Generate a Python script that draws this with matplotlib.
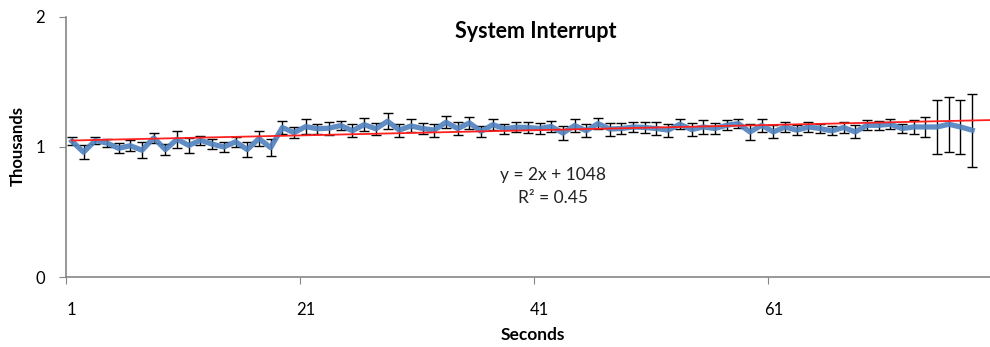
import numpy as np
import matplotlib.pyplot as plt

# system interrupt counts per second (thousands)
seconds = np.arange(1, 79)
interrupts = [1.045, 0.96, 1.05, 1.03, 0.99, 1.01, 0.975, 1.07, 0.98, 1.06,
              1.012, 1.052, 1.022, 1.0, 1.04, 0.98, 1.065, 0.995, 1.15, 1.11,
              1.157, 1.14, 1.145, 1.165, 1.125, 1.172, 1.14, 1.198, 1.13, 1.162,
              1.142, 1.13, 1.19, 1.142, 1.185, 1.12, 1.172, 1.14, 1.152, 1.15,
              1.142, 1.158, 1.107, 1.165, 1.125, 1.18, 1.138, 1.142, 1.154, 1.15,
              1.142, 1.13, 1.175, 1.134, 1.154, 1.142, 1.167, 1.18, 1.116, 1.167,
              1.116, 1.154, 1.129, 1.154, 1.142, 1.124, 1.15, 1.116, 1.167, 1.167,
              1.175, 1.142, 1.154, 1.154, 1.154, 1.175, 1.154, 1.129]
errors = [0.03, 0.055, 0.03, 0.03, 0.04, 0.04, 0.06, 0.04, 0.045, 0.065,
          0.055, 0.035, 0.04, 0.035, 0.04, 0.055, 0.06, 0.065, 0.05, 0.04,
          0.06, 0.04, 0.05, 0.035, 0.05, 0.05, 0.045, 0.06, 0.05, 0.05,
          0.045, 0.05, 0.045, 0.05, 0.045, 0.04, 0.045, 0.04, 0.04, 0.04,
          0.04, 0.045, 0.055, 0.05, 0.05, 0.04, 0.05, 0.04, 0.035, 0.04,
          0.05, 0.05, 0.04, 0.05, 0.055, 0.045, 0.04, 0.035, 0.06, 0.05,
          0.05, 0.04, 0.04, 0.04, 0.035, 0.035, 0.04, 0.05, 0.04, 0.035,
          0.04, 0.035, 0.055, 0.075, 0.205, 0.21, 0.205, 0.28]
slope = 2
intercept = 1048
r2 = 0.45
x_labels = [1, 21, 41, 61]

plt.rcParams['font.family'] = ['Lato', 'DejaVu Sans']

W, H = 990, 347
fig = plt.figure(figsize=(W / 100, H / 100), dpi=100)
ax = fig.add_axes([0.0667, 0.2017, 0.933, 0.7494])

ax.errorbar(seconds, interrupts, yerr=errors, fmt='none', ecolor='black',
            elinewidth=1, capsize=3.5, capthick=1, zorder=2)
ax.plot(seconds, interrupts, color='#4F81BD', lw=3.8, alpha=0.9,
        solid_joinstyle='round', zorder=3)

# linear trendline, with forward forecast to the edge
tx = np.array([1, 79.5])
ax.plot(tx, (slope * tx + intercept) / 1000, color='#FF2020', lw=1.3, zorder=4)

# trendline label (pixel positions from top-left)
fig.text(553 / W, 1 - 175 / H, "y = %dx + %d" % (slope, intercept),
         ha='center', va='center', fontsize=12.5, color='#222222')
fig.text(553 / W, 1 - 198 / H, "R² = %.2f" % r2,
         ha='center', va='center', fontsize=12.5, color='#222222')

fig.text(536 / W, 1 - 32 / H, "System Interrupt", ha='center', va='center',
         fontsize=15.5, fontweight='bold')

ax.set_xlim(0.5, 79.5)
ax.set_ylim(0, 2)
ax.set_yticks([0, 1, 2])
ax.set_yticklabels(['0', '1', '2'])
ax.set_xticks([0.5, 20.5, 40.5, 60.5])
ax.set_xticklabels([])
ax.set_xticks(x_labels, minor=True)
ax.set_xticklabels([str(v) for v in x_labels], minor=True)
ax.tick_params(axis='x', which='minor', length=0, pad=18, labelsize=12)
ax.tick_params(axis='x', which='major', length=5, color='#868686', direction='out')
ax.tick_params(axis='y', length=5, color='#868686', direction='out', pad=10, labelsize=12)

for s in ['top', 'right']:
    ax.spines[s].set_visible(False)
for s in ['left', 'bottom']:
    ax.spines[s].set_color('#868686')
    ax.spines[s].set_linewidth(1.2)

ax.set_xlabel("Seconds", fontsize=12.5, fontweight='bold', va='center')
ax.xaxis.set_label_coords(533 / W, 1 - 335 / H, transform=fig.transFigure)
ax.set_ylabel("Thousands", fontsize=12, fontweight='bold', va='center')
ax.yaxis.set_label_coords(18 / W, 1 - 146 / H, transform=fig.transFigure)

fig.savefig("out.png", dpi=100)
